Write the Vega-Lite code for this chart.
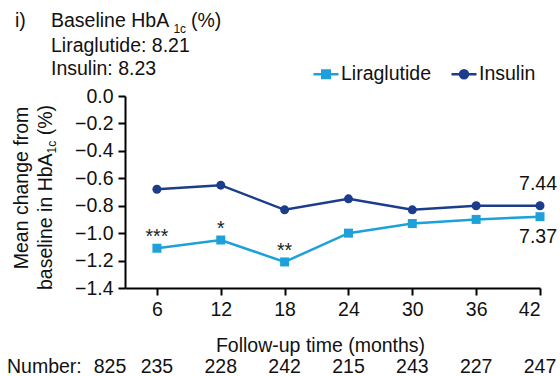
{
  "$schema": "https://vega.github.io/schema/vega-lite/v6.json",
  "width": 415,
  "height": 192,
  "autosize": {"type": "none"},
  "padding": {"left": 125, "top": 96, "right": 20, "bottom": 88},
  "resolve": {"axis": {"x": "independent", "y": "independent"}},
  "config": {
    "font": "Liberation Sans",
    "view": {"stroke": null},
    "axis": {
      "grid": false,
      "domainColor": "#000000",
      "domainWidth": 2,
      "tickColor": "#000000",
      "tickWidth": 2,
      "tickSize": 7,
      "labelFont": "Liberation Sans",
      "labelFontSize": 19.5,
      "labelColor": "#111111",
      "labelPadding": 5,
      "labelOverlap": false,
      "titleFont": "Liberation Sans",
      "titleFontSize": 19.5,
      "titleFontWeight": "normal",
      "titleColor": "#111111"
    },
    "text": {"font": "Liberation Sans", "fontSize": 19.5, "color": "#111111"}
  },
  "datasets": {
    "series": [
      {"month": 6, "series": "Liraglutide", "change": -1.11, "sig": "***"},
      {"month": 12, "series": "Liraglutide", "change": -1.05, "sig": "*"},
      {"month": 18, "series": "Liraglutide", "change": -1.21, "sig": "**"},
      {"month": 24, "series": "Liraglutide", "change": -1.00, "sig": ""},
      {"month": 30, "series": "Liraglutide", "change": -0.93, "sig": ""},
      {"month": 36, "series": "Liraglutide", "change": -0.90, "sig": ""},
      {"month": 42, "series": "Liraglutide", "change": -0.88, "sig": ""},
      {"month": 6, "series": "Insulin", "change": -0.68, "sig": ""},
      {"month": 12, "series": "Insulin", "change": -0.65, "sig": ""},
      {"month": 18, "series": "Insulin", "change": -0.83, "sig": ""},
      {"month": 24, "series": "Insulin", "change": -0.75, "sig": ""},
      {"month": 30, "series": "Insulin", "change": -0.83, "sig": ""},
      {"month": 36, "series": "Insulin", "change": -0.80, "sig": ""},
      {"month": 42, "series": "Insulin", "change": -0.80, "sig": ""}
    ],
    "numbers": [
      {"month": 6, "n": "235"},
      {"month": 12, "n": "228"},
      {"month": 18, "n": "242"},
      {"month": 24, "n": "215"},
      {"month": 30, "n": "243"},
      {"month": 36, "n": "227"},
      {"month": 42, "n": "247"}
    ]
  },
  "layer": [
    {
      "data": {"name": "series"},
      "mark": {"type": "line", "strokeWidth": 2.5},
      "encoding": {
        "x": {
          "field": "month", "type": "quantitative",
          "scale": {"domain": [3, 42], "nice": false, "zero": false},
          "axis": {
            "values": [6, 12, 18, 24, 30, 36, 42],
            "labelOverlap": false,
            "title": "Follow-up time (months)",
            "titleX": 195, "titleY": 63,
            "titleAlign": "center", "titleBaseline": "alphabetic"
          }
        },
        "y": {
          "field": "change", "type": "quantitative",
          "scale": {"domain": [-1.4, 0], "nice": false, "zero": false},
          "axis": {
            "values": [0, -0.2, -0.4, -0.6, -0.8, -1.0, -1.2, -1.4],
            "format": ".1f",
            "labelOverlap": false,
            "title": null
          }
        },
        "color": {
          "field": "series", "type": "nominal",
          "scale": {"domain": ["Liraglutide", "Insulin"], "range": ["#1ea0da", "#1c3c8c"]},
          "legend": {
            "orient": "none",
            "legendX": 187,
            "legendY": -36,
            "direction": "horizontal",
            "title": null,
            "padding": 0,
            "labelFont": "Liberation Sans",
            "labelFontSize": 19.5,
            "labelColor": "#111111",
            "labelOffset": 1,
            "columnPadding": 15,
            "symbolSize": 625,
            "symbolStrokeWidth": 2.5,
            "encode": {
              "symbols": {
                "update": {
                  "shape": {"signal": "datum.value === 'Liraglutide' ? 'M-1,0H1M-0.3,-0.3H0.3V0.3H-0.3Z' : 'M-1,0H1M0.32,0A0.32,0.32,0,1,1,-0.32,0A0.32,0.32,0,1,1,0.32,0Z'"},
                  "fill": {"signal": "datum.value === 'Liraglutide' ? '#1ea0da' : '#1c3c8c'"},
                  "stroke": {"signal": "datum.value === 'Liraglutide' ? '#1ea0da' : '#1c3c8c'"},
                  "fillOpacity": {"value": 1},
                  "strokeWidth": {"value": 2.5}
                }
              }
            }
          }
        }
      }
    },
    {
      "data": {"name": "series"},
      "transform": [{"filter": "datum.series === 'Liraglutide'"}],
      "mark": {"type": "point", "shape": "square", "filled": true, "size": 81, "opacity": 1},
      "encoding": {
        "x": {"field": "month", "type": "quantitative", "axis": null},
        "y": {"field": "change", "type": "quantitative", "axis": null},
        "color": {"field": "series", "type": "nominal", "legend": null}
      }
    },
    {
      "data": {"name": "series"},
      "transform": [{"filter": "datum.series === 'Insulin'"}],
      "mark": {"type": "point", "shape": "circle", "filled": true, "size": 81, "opacity": 1},
      "encoding": {
        "x": {"field": "month", "type": "quantitative", "axis": null},
        "y": {"field": "change", "type": "quantitative", "axis": null},
        "color": {"field": "series", "type": "nominal", "legend": null}
      }
    },
    {
      "data": {"name": "series"},
      "transform": [{"filter": "datum.sig !== ''"}],
      "mark": {"type": "text", "dy": -5, "align": "center", "baseline": "alphabetic", "color": "#222222"},
      "encoding": {
        "x": {"field": "month", "type": "quantitative", "axis": null},
        "y": {"field": "change", "type": "quantitative", "axis": null},
        "text": {"field": "sig"}
      }
    },
    {
      "data": {"name": "numbers"},
      "mark": {"type": "text", "align": "center", "baseline": "alphabetic"},
      "encoding": {
        "x": {"field": "month", "type": "quantitative", "axis": null},
        "y": {"datum": -2.0198, "type": "quantitative", "axis": null},
        "text": {"field": "n"}
      }
    },
    {
      "data": {"values": [{}]},
      "mark": {"type": "text", "text": "825", "align": "center", "baseline": "alphabetic"},
      "encoding": {
        "x": {"datum": 1.59, "type": "quantitative", "axis": null},
        "y": {"datum": -2.0198, "type": "quantitative", "axis": null}
      }
    },
    {
      "data": {"values": [{}]},
      "mark": {"type": "text", "text": "Number:", "align": "left", "baseline": "alphabetic"},
      "encoding": {
        "x": {"datum": -8.089, "type": "quantitative", "axis": null},
        "y": {"datum": -2.0198, "type": "quantitative", "axis": null}
      }
    },
    {
      "data": {"values": [{}]},
      "mark": {"type": "text", "text": "7.44", "align": "right", "baseline": "alphabetic"},
      "encoding": {
        "x": {"datum": 43.6, "type": "quantitative", "axis": null},
        "y": {"datum": -0.6854, "type": "quantitative", "axis": null}
      }
    },
    {
      "data": {"values": [{}]},
      "mark": {"type": "text", "text": "7.37", "align": "right", "baseline": "alphabetic"},
      "encoding": {
        "x": {"datum": 43.6, "type": "quantitative", "axis": null},
        "y": {"datum": -1.0719, "type": "quantitative", "axis": null}
      }
    },
    {
      "data": {"values": [{}]},
      "mark": {"type": "text", "text": "i)", "align": "left", "baseline": "alphabetic"},
      "encoding": {
        "x": {"datum": -7.337, "type": "quantitative", "axis": null},
        "y": {"datum": 0.5031, "type": "quantitative", "axis": null}
      }
    },
    {
      "data": {"values": [{}]},
      "mark": {"type": "text", "text": "Baseline HbA", "align": "left", "baseline": "alphabetic"},
      "encoding": {
        "x": {"datum": -3.954, "type": "quantitative", "axis": null},
        "y": {"datum": 0.5031, "type": "quantitative", "axis": null}
      }
    },
    {
      "data": {"values": [{}]},
      "mark": {"type": "text", "text": "1c", "align": "left", "baseline": "alphabetic", "fontSize": 12},
      "encoding": {
        "x": {"datum": 7.55, "type": "quantitative", "axis": null},
        "y": {"datum": 0.4594, "type": "quantitative", "axis": null}
      }
    },
    {
      "data": {"values": [{}]},
      "mark": {"type": "text", "text": "(%)", "align": "left", "baseline": "alphabetic"},
      "encoding": {
        "x": {"datum": 9.2, "type": "quantitative", "axis": null},
        "y": {"datum": 0.5031, "type": "quantitative", "axis": null}
      }
    },
    {
      "data": {"values": [{}]},
      "mark": {"type": "text", "text": "Liraglutide: 8.21", "align": "left", "baseline": "alphabetic"},
      "encoding": {
        "x": {"datum": -3.954, "type": "quantitative", "axis": null},
        "y": {"datum": 0.3208, "type": "quantitative", "axis": null}
      }
    },
    {
      "data": {"values": [{}]},
      "mark": {"type": "text", "text": "Insulin: 8.23", "align": "left", "baseline": "alphabetic"},
      "encoding": {
        "x": {"datum": -3.954, "type": "quantitative", "axis": null},
        "y": {"datum": 0.1531, "type": "quantitative", "axis": null}
      }
    },
    {
      "data": {"values": [{}]},
      "mark": {"type": "text", "text": "Mean change from", "align": "center", "baseline": "alphabetic", "angle": 270},
      "encoding": {
        "x": {"datum": -6.116, "type": "quantitative", "axis": null},
        "y": {"datum": -0.6708, "type": "quantitative", "axis": null}
      }
    },
    {
      "data": {"values": [{}]},
      "mark": {"type": "text", "text": "baseline in HbA", "align": "left", "baseline": "alphabetic", "angle": 270},
      "encoding": {
        "x": {"datum": -3.86, "type": "quantitative", "axis": null},
        "y": {"datum": -1.4146, "type": "quantitative", "axis": null}
      }
    },
    {
      "data": {"values": [{}]},
      "mark": {"type": "text", "text": "1c", "align": "left", "baseline": "alphabetic", "angle": 270, "fontSize": 12},
      "encoding": {
        "x": {"datum": -3.484, "type": "quantitative", "axis": null},
        "y": {"datum": -0.4186, "type": "quantitative", "axis": null}
      }
    },
    {
      "data": {"values": [{}]},
      "mark": {"type": "text", "text": "(%)", "align": "left", "baseline": "alphabetic", "angle": 270},
      "encoding": {
        "x": {"datum": -3.86, "type": "quantitative", "axis": null},
        "y": {"datum": -0.2866, "type": "quantitative", "axis": null}
      }
    }
  ]
}
